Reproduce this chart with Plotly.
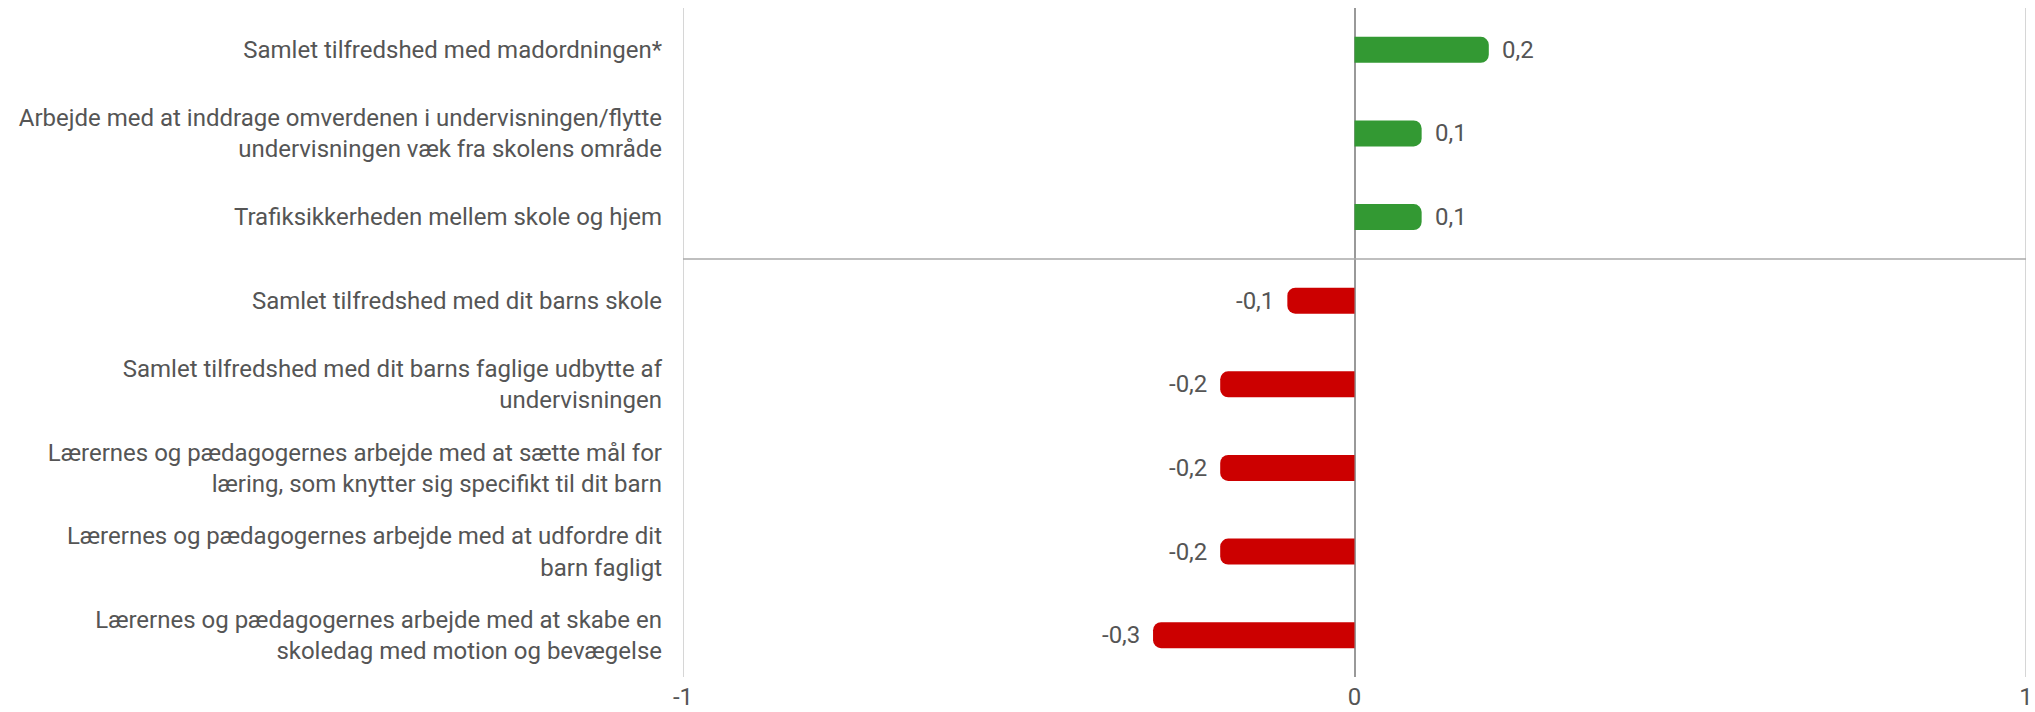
import plotly.graph_objects as go

categories = [
    "Samlet tilfredshed med madordningen*",
    "Arbejde med at inddrage omverdenen i undervisningen/flytte<br>undervisningen væk fra skolens område",
    "Trafiksikkerheden mellem skole og hjem",
    "Samlet tilfredshed med dit barns skole",
    "Samlet tilfredshed med dit barns faglige udbytte af<br>undervisningen",
    "Lærernes og pædagogernes arbejde med at sætte mål for<br>læring, som knytter sig specifikt til dit barn",
    "Lærernes og pædagogernes arbejde med at udfordre dit<br>barn fagligt",
    "Lærernes og pædagogernes arbejde med at skabe en<br>skoledag med motion og bevægelse",
]
values = [0.2, 0.1, 0.1, -0.1, -0.2, -0.2, -0.2, -0.3]
x_ticks = [-1, 0, 1]
x_ticklabels = ["-1", "0", "1"]

GREEN = "#339933"
RED = "#cc0000"
TEXT = "#555555"
FONT = "Roboto"

colors = [GREEN if v >= 0 else RED for v in values]

fig = go.Figure()

# vertical grid lines at the outer ticks
for t in x_ticks:
    if t != 0:
        fig.add_shape(
            type="line", xref="x", yref="paper",
            x0=t, x1=t, y0=0, y1=1,
            line=dict(color="#c8c8c8", width=1.5), layer="below",
        )

fig.add_trace(go.Bar(
    y=categories,
    x=values,
    orientation="h",
    marker=dict(color=colors, cornerradius=8, line=dict(width=0)),
    width=0.31,
    hoverinfo="skip",
))

for c, v in zip(categories, values):
    fig.add_annotation(
        x=v, y=c, xref="x", yref="y",
        text=f"{v:.1f}".replace(".", ","),
        showarrow=False,
        xanchor="left" if v >= 0 else "right",
        xshift=11 if v >= 0 else -11,
        font=dict(family=FONT, size=24, color=TEXT),
    )

# separator between positive and negative items
split = next(i for i, v in enumerate(values) if v < 0)
fig.add_shape(
    type="line", xref="paper", yref="y",
    x0=0, x1=1, y0=split - 0.5, y1=split - 0.5,
    line=dict(color="#aaaaaa", width=1.5),
)

fig.update_layout(
    width=2035, height=712,
    margin=dict(l=683, r=9, t=8, b=35, autoexpand=False),
    plot_bgcolor="white", paper_bgcolor="white",
    showlegend=False,
    font=dict(family=FONT, color=TEXT),
    xaxis=dict(
        range=[-1, 1],
        tickvals=x_ticks, ticktext=x_ticklabels,
        showgrid=False,
        zeroline=True, zerolinecolor="#999999", zerolinewidth=2,
        showline=False, ticks="",
        ticklabelstandoff=3,
        tickfont=dict(family=FONT, size=24, color=TEXT),
        automargin=False,
        fixedrange=True,
    ),
    yaxis=dict(
        categoryorder="array", categoryarray=categories,
        autorange="reversed",
        showgrid=False, zeroline=False, showline=False, ticks="",
        ticklabelstandoff=20,
        tickfont=dict(family=FONT, size=24, color=TEXT),
        automargin=False,
        fixedrange=True,
    ),
)

fig.write_html(
    "out.html",
    config={"displayModeBar": False},
    post_script="document.body.style.margin='0';",
)
